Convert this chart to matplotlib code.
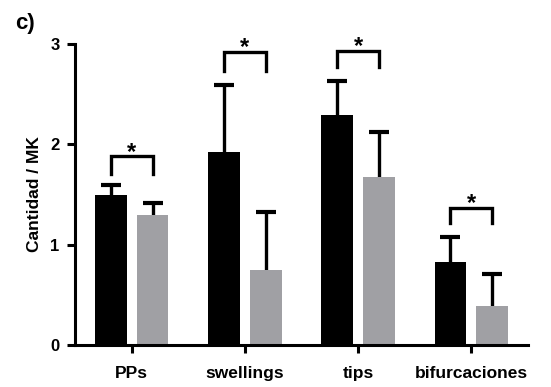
import numpy as np
import matplotlib.pyplot as plt

plt.rcParams['font.family'] = ['Liberation Sans', 'DejaVu Sans']
plt.rcParams['font.weight'] = 'bold'

# datos
categorias = ['PPs', 'swellings', 'tips', 'bifurcaciones']
control = [1.50, 1.92, 2.29, 0.83]
control_err = [0.09, 0.67, 0.34, 0.25]
tratado = [1.30, 0.75, 1.67, 0.39]
tratado_err = [0.12, 0.58, 0.45, 0.32]
# corchetes de significancia (altura superior, altura de las patas)
corchete_top = [1.88, 2.92, 2.93, 1.37]
corchete_pie = [1.70, 2.73, 2.77, 1.22]

x = np.arange(len(categorias))
ancho = 0.28
off = 0.185
gris = '#a0a0a4'

fig = plt.figure(figsize=(5.51, 3.87), dpi=100)
ax = fig.add_axes([75 / 551, 42 / 387, 453 / 551, 301 / 387])

ax.bar(x - off, control, ancho, color='black', zorder=2)
ax.bar(x + off, tratado, ancho, color=gris, zorder=2)

# solo la barra de error superior
for pos, val, err in [(x - off, control, control_err), (x + off, tratado, tratado_err)]:
    arriba = np.array(val) + np.array(err)
    ax.vlines(pos, val, arriba, color='black', lw=2.4, zorder=1)
    ax.plot(pos, arriba, ls='none', marker='_', ms=15, mew=3, color='black', zorder=1)

for i in range(len(categorias)):
    xs = [x[i] - off, x[i] - off, x[i] + off, x[i] + off]
    ys = [corchete_pie[i], corchete_top[i], corchete_top[i], corchete_pie[i]]
    ax.plot(xs, ys, color='black', lw=2.4, solid_joinstyle='miter', clip_on=False)
    ax.text(x[i], corchete_top[i] + 0.04, '*', ha='center', va='center',
            fontsize=17, fontweight='bold')

ax.set_xlim(-0.5, 3.5)
ax.set_ylim(0, 3)
ax.set_yticks([0, 1, 2, 3])
ax.set_xticks(x)
ax.set_xticklabels(categorias, fontsize=12.5, fontweight='bold')
ax.tick_params(axis='y', labelsize=12, width=2.2, length=6, pad=5)
ax.tick_params(axis='x', width=2.2, length=6, pad=9)
for t in ax.get_yticklabels():
    t.set_fontweight('bold')
ax.set_ylabel('Cantidad / MK', fontsize=12.5, fontweight='bold', labelpad=6)

ax.spines['top'].set_visible(False)
ax.spines['right'].set_visible(False)
ax.spines['left'].set_linewidth(2.2)
ax.spines['bottom'].set_linewidth(2.2)

fig.text(15 / 551, 1 - 24 / 387, 'c)', fontsize=16, fontweight='bold', va='center')

plt.savefig('out.png', dpi=100)
